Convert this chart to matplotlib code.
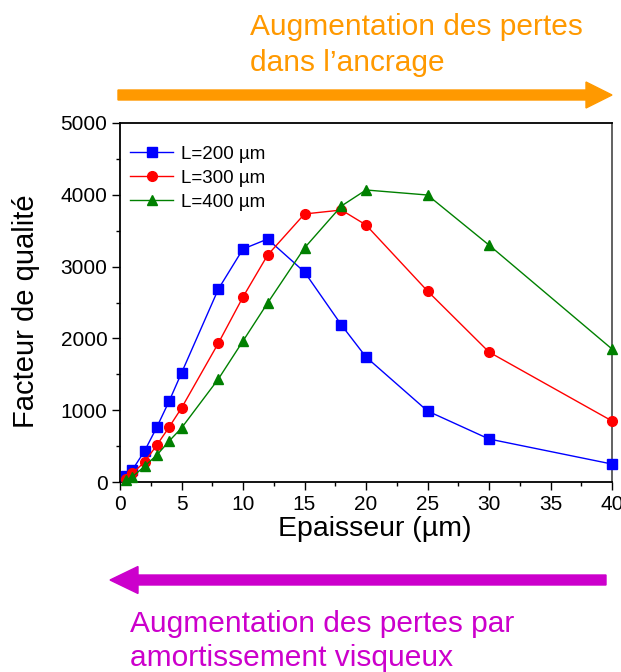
import matplotlib
matplotlib.use("Agg")
import matplotlib.pyplot as plt
from matplotlib.ticker import MultipleLocator
from matplotlib.patches import FancyArrow

plt.rcParams['font.family'] = ['Liberation Sans', 'DejaVu Sans']

thickness = [0.5, 1, 2, 3, 4, 5, 8, 10, 12, 15, 18, 20, 25, 30, 40]
q_200 = [80, 167, 432, 766, 1128, 1518, 2688, 3245, 3384, 2925, 2187, 1741, 989, 599, 250]
q_300 = [40, 120, 280, 515, 766, 1030, 1935, 2577, 3160, 3733, 3788, 3580, 2660, 1810, 850]
q_400 = [30, 70, 220, 376, 571, 752, 1435, 1964, 2493, 3260, 3844, 4067, 3997, 3300, 1852]
labels = ["L=200 µm", "L=300 µm", "L=400 µm"]

W, H = 621, 672
fig = plt.figure(figsize=(W / 100, H / 100), dpi=100)
ax = fig.add_axes([120 / W, 1 - 482 / H, (612 - 120) / W, (482 - 123) / H])

ax.plot(thickness, q_200, '-s', color='#0000FF', lw=1, ms=6.5, label=labels[0], clip_on=False, zorder=3)
ax.plot(thickness, q_300, '-o', color='#FF0000', lw=1, ms=7, label=labels[1], clip_on=False, zorder=3)
ax.plot(thickness, q_400, '-^', color='#008000', lw=1, ms=7.5, label=labels[2], clip_on=False, zorder=3)

ax.set_xlim(0, 40)
ax.set_ylim(0, 5000)
ax.xaxis.set_major_locator(MultipleLocator(5))
ax.xaxis.set_minor_locator(MultipleLocator(2.5))
ax.yaxis.set_major_locator(MultipleLocator(1000))
ax.yaxis.set_minor_locator(MultipleLocator(500))
ax.tick_params(which='major', direction='out', length=6, width=1, labelsize=15, top=False, right=False, pad=3)
ax.tick_params(which='minor', direction='out', length=3, width=1, top=False, right=False)
for s in ax.spines.values():
    s.set_linewidth(1.3)
ax.spines['right'].set_color('#555555')

ax.set_xlabel("Epaisseur (µm)", fontsize=20.5, labelpad=2)
ax.xaxis.label.set_x(0.518)
ax.set_ylabel("Facteur de qualité", fontsize=21)
ax.yaxis.set_label_coords(-0.163, 0.475)

leg = ax.legend(loc='upper left', frameon=False, fontsize=13.5, handlelength=2.3,
                handletextpad=0.4, labelspacing=0.36, borderaxespad=0.0,
                bbox_to_anchor=(0.005, 0.957))

# Arrows and annotations in figure pixel coordinates
def px(x, y):
    return x / W, 1 - y / H

orange = '#FF9900'
magenta = '#CC00CC'
x0, y0 = px(118, 95)
x1, _ = px(612, 95)
fig.patches.append(FancyArrow(x0, y0, x1 - x0, 0, width=10 / H, head_width=26 / H,
                              head_length=26 / W, length_includes_head=True,
                              color=orange, transform=fig.transFigure, figure=fig))
x0, y0 = px(606, 580)
x1, _ = px(110, 580)
fig.patches.append(FancyArrow(x0, y0, x1 - x0, 0, width=10 / H, head_width=27 / H,
                              head_length=28 / W, length_includes_head=True,
                              color=magenta, transform=fig.transFigure, figure=fig))

fig.text(*px(250, 35), "Augmentation des pertes", color=orange,
         fontsize=21.5, ha='left', va='baseline')
fig.text(*px(250, 71), "dans l\u2019ancrage", color=orange,
         fontsize=21.5, ha='left', va='baseline')
fig.text(*px(130, 632), "Augmentation des pertes par", color=magenta,
         fontsize=21.5, ha='left', va='baseline')
fig.text(*px(130, 666), "amortissement visqueux", color=magenta,
         fontsize=21.5, ha='left', va='baseline')

fig.savefig("out.png", dpi=100)
